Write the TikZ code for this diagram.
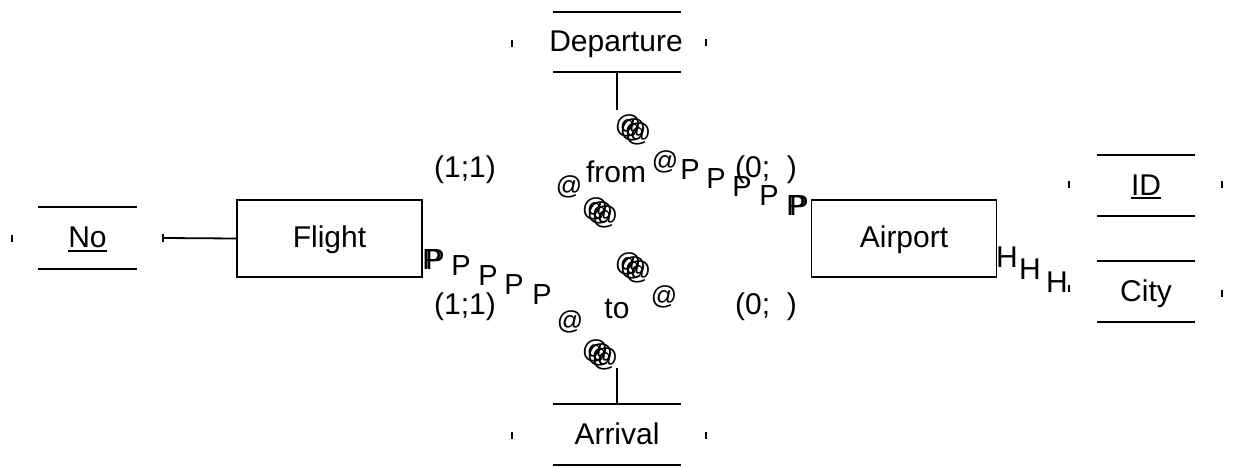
\documentclass[tikz,border=0pt]{standalone}
\usepackage{fontspec}
\setmainfont{Liberation Sans}
\begin{document}
\begin{tikzpicture}[x=1pt,y=-1pt,
  every node/.style={inner sep=0pt, outer sep=0pt, anchor=base, font=\fontsize{30}{36}\selectfont},
  ln/.style={line width=1.8pt},
  tickmark/.style={line width=1.6pt},
  glyphP/.style={font=\fontsize{29}{34}\selectfont, anchor=center},
  glyphAt/.style={font=\fontsize{26}{30}\selectfont, anchor=center},
  glyphH/.style={font=\fontsize{30}{35}\selectfont, anchor=center},
  entity/.style={draw, line width=1.8pt, minimum width=185pt, minimum height=77pt, anchor=center}
]
\path[use as bounding box] (0,0) rectangle (1234,466);

% entities
\node[entity] (flight) at (329.5,238.5) {};
\node (flightt) at (329.5,247) {Flight};
\node[entity] (airport) at (904,238.5) {};
\node (airportt) at (904,247) {Airport};

% attribute No
\draw[ln] (38,207) -- (137,207);
\draw[ln] (38,269) -- (137,269);
\node (no) at (87.5,247) {No};
\draw[line width=1.4pt] ([yshift=-4pt]no.base west) -- ([yshift=-4pt]no.base east);
\draw[tickmark] (12,235) -- (12,242);
\coordinate (noend) at (163,238);
\draw[ln] (noend) -- (flight.west);
\draw[tickmark] (163,234) -- (163,242);

% attribute ID
\draw[ln] (1097,155) -- (1195,155);
\draw[ln] (1097,216) -- (1195,216);
\node (id) at (1146,195) {ID};
\draw[line width=1.4pt] ([yshift=-3pt]id.base west) -- ([yshift=-3pt]id.base east);
\draw[tickmark] (1069,181) -- (1069,188);
\draw[tickmark] (1222,181) -- (1222,188);

% attribute City
\draw[ln] (1097,261) -- (1195,261);
\draw[ln] (1097,322) -- (1195,322);
\node (city) at (1146,301) {City};
\draw[tickmark] (1069,285) -- (1069,292);
\draw[tickmark] (1222,290) -- (1222,297);
\node[glyphH] (h1) at (1007,257) {H};
\node[glyphH] (h2) at (1030,269) {H};
\node[glyphH] (h3) at (1057,282) {H};

% Departure
\draw[ln] (553,12) -- (681,12);
\draw[ln] (553,72) -- (681,72);
\node (dep) at (616,51) {Departure};
\draw[tickmark] (512,40) -- (512,47);
\draw[tickmark] (706,39) -- (706,46);
\coordinate (deptop) at (617,72);
\coordinate (depfoot) at (617,110);
\draw[ln] (deptop) -- (depfoot);

% Arrival
\draw[ln] (553,404) -- (681,404);
\draw[ln] (553,465) -- (681,465);
\node (arr) at (617,444) {Arrival};
\draw[tickmark] (512,432) -- (512,439);
\draw[tickmark] (706,432) -- (706,439);
\coordinate (arrtop) at (617,404);
\coordinate (arrfoot) at (617,368);
\draw[ln] (arrtop) -- (arrfoot);

% relationship "from"
\node (from) at (616,182) {from};
\node (c1) at (465,177) {(1;1)};
\node (c2) at (766,177) {(0;\phantom{1})};
\node[glyphAt] (a1) at (569,187) {@};
\node[glyphAt] (a2) at (665,162) {@};
\foreach \d/\e in {-5/-4,0/0,5/4} {
  \node[glyphAt] at (633+\d,130+\e) {@};
  \node[glyphAt] at (600+\d,213+\e) {@};
}
\node[glyphP] (p1) at (690,170) {P};
\node[glyphP] (p2) at (716,179) {P};
\node[glyphP] (p3) at (742,187) {P};
\node[glyphP] (p4) at (769,196) {P};
\node[glyphP] (p5) at (796,206) {P};
\node[glyphP] (p5b) at (799,206) {P};

% relationship "to"
\node (to) at (617,318) {to};
\node (c3) at (465,314) {(1;1)};
\node (c4) at (766,314) {(0;\phantom{1})};
\node[glyphAt] (a3) at (570,322) {@};
\node[glyphAt] (a4) at (664,297) {@};
\foreach \d/\e in {-5/-4,0/0,5/4} {
  \node[glyphAt] at (633+\d,268+\e) {@};
  \node[glyphAt] at (600+\d,355+\e) {@};
}
\node[glyphP] (q1) at (432,260) {P};
\node[glyphP] (q1b) at (435,260) {P};
\node[glyphP] (q2) at (461,266) {P};
\node[glyphP] (q3) at (488,276) {P};
\node[glyphP] (q4) at (514,285) {P};
\node[glyphP] (q5) at (542,295) {P};
\end{tikzpicture}
\end{document}
